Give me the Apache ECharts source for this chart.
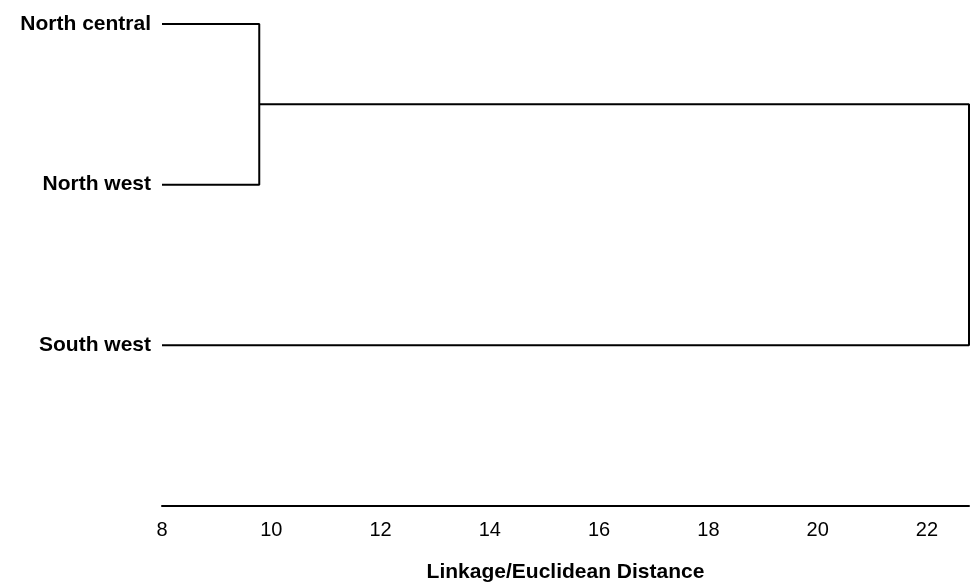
<!DOCTYPE html>
<html><head><meta charset="utf-8">
<script src="https://cdn.jsdelivr.net/npm/echarts@6/dist/echarts.min.js"></script>
<style>html,body{margin:0;padding:0;background:#fff}#c{width:971px;height:584px}</style>
</head><body><div id="c"></div>
<script>
var leaves = ['North central', 'North west', 'South west'];
// merges: children (leaf index or 'mN' for merge N) and linkage distance
var mergeA = [0, 'm0'];
var mergeB = [1, 2];
var mergeHeight = [9.78, 22.77];
var xTicks = [8, 10, 12, 14, 16, 18, 20, 22];
var xName = 'Linkage/Euclidean Distance';

var baseHeight = xTicks[0];
var nodePos = {}, nodeH = {};
leaves.forEach(function (l, i) { nodePos[i] = i; nodeH[i] = baseHeight; });
var series = [];
mergeHeight.forEach(function (h, k) {
  var a = mergeA[k], b = mergeB[k];
  var pa = nodePos[a], pb = nodePos[b];
  series.push({
    type: 'line', symbol: 'none', silent: true, clip: false, animation: false,
    lineStyle: { color: '#000', width: 2 },
    data: [[nodeH[a], pa], [h, pa], [h, pb], [nodeH[b], pb]]
  });
  nodePos['m' + k] = (pa + pb) / 2;
  nodeH['m' + k] = h;
});

var chart = echarts.init(document.getElementById('c'));
chart.setOption({
  backgroundColor: '#fff',
  animation: false,
  grid: { left: 162, right: 2, top: 24, bottom: 78, outerBoundsMode: 'none', containLabel: false },
  xAxis: {
    type: 'value', position: 'bottom', min: xTicks[0], max: mergeHeight[mergeHeight.length - 1], interval: 2,
    axisLine: { show: true, onZero: false, lineStyle: { color: '#000', width: 2 } },
    axisTick: { show: false }, splitLine: { show: false },
    axisLabel: { color: '#000', fontSize: 20, fontFamily: 'Liberation Sans', margin: 14,
      showMaxLabel: false,
      formatter: function (v) { return xTicks.indexOf(v) >= 0 ? String(v) : ''; } },
    name: xName, nameLocation: 'middle', nameGap: 56,
    nameTextStyle: { color: '#000', fontSize: 21, fontWeight: 'bold', fontFamily: 'Liberation Sans' }
  },
  yAxis: {
    type: 'value', inverse: true, min: 0, max: 3, interval: 1,
    axisLine: { show: false }, axisTick: { show: false }, splitLine: { show: false },
    axisLabel: { color: '#000', fontSize: 21, fontWeight: 'bold', fontFamily: 'Liberation Sans', margin: 11,
      padding: [4, 0, 0, 0],
      formatter: function (v) { return leaves[v] || ''; } }
  },
  series: series
});
</script></body></html>
